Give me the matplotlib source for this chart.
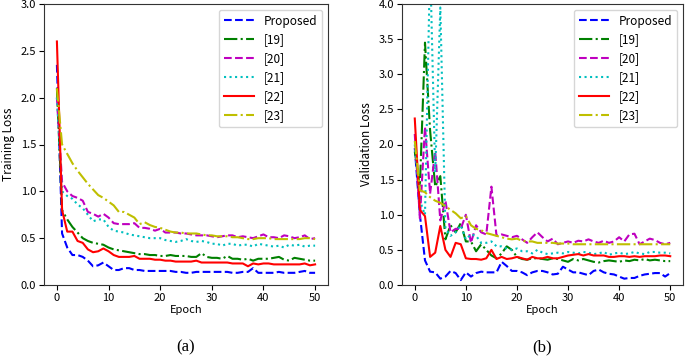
import matplotlib.pyplot as plt
import numpy as np

plt.rcParams["font.family"] = ["Noto Sans CJK SC", "DejaVu Sans"]

epochs = np.arange(51)
names = ["Proposed", "[19]", "[20]", "[21]", "[22]", "[23]"]
styles = ["b--", "g-.", "m--", "c:", "r-", "y-."]

train_proposed = [2.35, 0.55, 0.40, 0.32, 0.32, 0.30, 0.26, 0.20, 0.21, 0.24,
                  0.20, 0.16, 0.16, 0.18, 0.18, 0.16, 0.16, 0.15, 0.15, 0.15,
                  0.15, 0.15, 0.15, 0.14, 0.14, 0.13, 0.13, 0.14, 0.14, 0.14,
                  0.14, 0.14, 0.14, 0.14, 0.13, 0.13, 0.14, 0.14, 0.18, 0.13,
                  0.13, 0.13, 0.13, 0.14, 0.13, 0.13, 0.13, 0.14, 0.15, 0.13,
                  0.13]
train_19 = [2.10, 0.80, 0.70, 0.62, 0.56, 0.50, 0.47, 0.45, 0.44, 0.43,
            0.40, 0.38, 0.37, 0.36, 0.35, 0.34, 0.33, 0.33, 0.32, 0.32,
            0.31, 0.31, 0.32, 0.31, 0.31, 0.31, 0.30, 0.30, 0.34, 0.30,
            0.29, 0.29, 0.28, 0.31, 0.28, 0.28, 0.27, 0.28, 0.26, 0.28,
            0.28, 0.28, 0.29, 0.30, 0.27, 0.26, 0.29, 0.28, 0.27, 0.26,
            0.26]
train_20 = [2.00, 1.10, 1.00, 0.95, 0.93, 0.90, 0.78, 0.76, 0.73, 0.76,
            0.72, 0.66, 0.65, 0.65, 0.65, 0.66, 0.61, 0.61, 0.60, 0.58,
            0.60, 0.56, 0.56, 0.56, 0.55, 0.55, 0.54, 0.53, 0.53, 0.53,
            0.52, 0.51, 0.52, 0.53, 0.53, 0.51, 0.52, 0.51, 0.50, 0.52,
            0.54, 0.51, 0.51, 0.50, 0.53, 0.52, 0.50, 0.51, 0.53, 0.49,
            0.50]
train_21 = [2.00, 1.00, 0.95, 0.92, 0.86, 0.82, 0.75, 0.68, 0.70, 0.70,
            0.62, 0.58, 0.57, 0.56, 0.54, 0.53, 0.52, 0.51, 0.50, 0.50,
            0.50, 0.48, 0.47, 0.46, 0.47, 0.49, 0.47, 0.46, 0.47, 0.46,
            0.44, 0.44, 0.42, 0.44, 0.44, 0.42, 0.43, 0.43, 0.41, 0.44,
            0.43, 0.42, 0.41, 0.42, 0.40, 0.43, 0.42, 0.43, 0.41, 0.42,
            0.42]
train_22 = [2.60, 0.80, 0.57, 0.57, 0.47, 0.45, 0.38, 0.35, 0.36, 0.39,
            0.36, 0.32, 0.30, 0.30, 0.30, 0.31, 0.28, 0.28, 0.28, 0.27,
            0.27, 0.26, 0.26, 0.25, 0.25, 0.25, 0.25, 0.26, 0.24, 0.24,
            0.24, 0.24, 0.24, 0.24, 0.23, 0.23, 0.23, 0.20, 0.23, 0.22,
            0.23, 0.23, 0.22, 0.22, 0.22, 0.22, 0.22, 0.22, 0.23, 0.21,
            0.22]
train_23 = [2.10, 1.50, 1.40, 1.30, 1.22, 1.15, 1.08, 1.02, 0.96, 0.93,
            0.89, 0.85, 0.78, 0.78, 0.75, 0.72, 0.65, 0.67, 0.64, 0.62,
            0.61, 0.59, 0.57, 0.56, 0.56, 0.55, 0.55, 0.55, 0.54, 0.53,
            0.53, 0.52, 0.52, 0.52, 0.51, 0.51, 0.50, 0.49, 0.49, 0.50,
            0.50, 0.50, 0.49, 0.49, 0.49, 0.49, 0.49, 0.49, 0.50, 0.50,
            0.49]

val_proposed = [1.95, 1.00, 0.35, 0.19, 0.18, 0.09, 0.12, 0.20, 0.17, 0.07,
                0.18, 0.12, 0.17, 0.19, 0.18, 0.18, 0.18, 0.33, 0.27, 0.20,
                0.20, 0.18, 0.14, 0.18, 0.20, 0.20, 0.18, 0.15, 0.16, 0.26,
                0.22, 0.18, 0.18, 0.16, 0.14, 0.20, 0.22, 0.18, 0.16, 0.15,
                0.12, 0.09, 0.10, 0.10, 0.13, 0.15, 0.16, 0.17, 0.17, 0.12,
                0.17]
val_19 = [1.90, 1.40, 3.45, 2.20, 1.40, 1.55, 0.65, 0.85, 0.75, 0.88,
          0.62, 0.62, 0.48, 0.58, 0.50, 0.42, 0.38, 0.45, 0.55, 0.50,
          0.40, 0.37, 0.36, 0.38, 0.38, 0.37, 0.36, 0.38, 0.37, 0.35,
          0.33, 0.37, 0.35, 0.37, 0.35, 0.33, 0.32, 0.34, 0.35, 0.34,
          0.33, 0.35, 0.34, 0.36, 0.35, 0.37, 0.35, 0.36, 0.35, 0.34,
          0.34]
val_20 = [2.15, 0.95, 2.25, 1.30, 1.90, 0.92, 1.20, 0.75, 0.80, 0.80,
          1.00, 0.60, 0.85, 0.75, 0.72, 1.40, 0.70, 0.72, 0.70, 0.68,
          0.70, 0.65, 0.60, 0.68, 0.75, 0.68, 0.62, 0.66, 0.58, 0.60,
          0.62, 0.60, 0.63, 0.62, 0.65, 0.62, 0.60, 0.63, 0.60, 0.62,
          0.68, 0.62, 0.72, 0.73, 0.58, 0.62, 0.66, 0.64, 0.60, 0.58,
          0.60]
val_21 = [2.00, 1.20, 1.00, 4.60, 1.60, 3.95, 0.80, 0.70, 0.75, 0.85,
          0.65, 0.72, 0.70, 0.60, 0.60, 0.62, 0.55, 0.55, 0.52, 0.50,
          0.52, 0.48, 0.48, 0.45, 0.50, 0.46, 0.44, 0.45, 0.46, 0.45,
          0.47, 0.46, 0.45, 0.47, 0.46, 0.44, 0.45, 0.47, 0.43, 0.45,
          0.46, 0.44, 0.45, 0.47, 0.45, 0.44, 0.47, 0.47, 0.46, 0.46,
          0.45]
val_22 = [2.37, 1.07, 0.98, 0.40, 0.46, 0.84, 0.50, 0.40, 0.60, 0.58,
          0.38, 0.37, 0.37, 0.36, 0.38, 0.50, 0.37, 0.40, 0.37, 0.38,
          0.40, 0.38, 0.36, 0.40, 0.38, 0.38, 0.40, 0.38, 0.38, 0.40,
          0.42, 0.43, 0.44, 0.42, 0.44, 0.42, 0.42, 0.42, 0.40, 0.40,
          0.41, 0.41, 0.40, 0.41, 0.40, 0.41, 0.41, 0.41, 0.42, 0.42,
          0.41]
val_23 = [2.05, 1.35, 1.32, 1.25, 1.20, 1.17, 1.12, 1.07, 1.02, 0.95,
          0.98, 0.85, 0.80, 0.78, 0.74, 0.72, 0.70, 0.68, 0.66, 0.65,
          0.66, 0.63, 0.62, 0.62, 0.60, 0.60, 0.60, 0.60, 0.59, 0.59,
          0.59, 0.58, 0.58, 0.58, 0.58, 0.58, 0.58, 0.58, 0.58, 0.58,
          0.58, 0.58, 0.58, 0.58, 0.58, 0.58, 0.58, 0.58, 0.58, 0.58,
          0.58]

train = [train_proposed, train_19, train_20, train_21, train_22, train_23]
val = [val_proposed, val_19, val_20, val_21, val_22, val_23]

W, H = 685, 357
fig = plt.figure(figsize=(W / 100, H / 100), dpi=100)
ax1 = fig.add_axes([44 / W, 72 / H, 284 / W, 281 / H])
ax2 = fig.add_axes([402 / W, 72 / H, 281 / W, 281 / H])

panels = [(ax1, train, "Training Loss", 3.0, "(a)"),
          (ax2, val, "Validation Loss", 4.0, "(b)")]
for ax, data, ylabel, ymax, tag in panels:
    for ys, st, name in zip(data, styles, names):
        ax.plot(epochs, ys, st, linewidth=1.5, label=name)
    ax.set_xlim(-2.5, 52.5)
    ax.set_ylim(0, ymax)
    ax.set_yticks(np.arange(0, ymax + 0.01, 0.5))
    ax.set_xlabel("Epoch", fontsize=8, labelpad=2)
    ax.set_ylabel(ylabel, fontsize=8.5)
    ax.tick_params(labelsize=8, pad=2)
    for s in ax.spines.values():
        s.set_color("#333333")
    ax.legend(loc="upper right", fontsize=8.5, handlelength=2.6,
              borderaxespad=0.5)
    # panel tag centred below the axes
    x_mid = ax.get_position().x0 + ax.get_position().width / 2
    fig.text(x_mid, 1 - 347 / H, tag, ha="center", va="center",
             fontsize=12, family="Liberation Serif")

fig.savefig("out.png", dpi=100)
